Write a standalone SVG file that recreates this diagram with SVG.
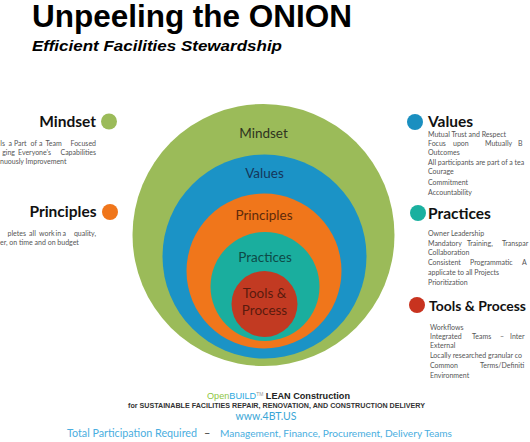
<svg xmlns="http://www.w3.org/2000/svg" width="530" height="442" viewBox="0 0 530 442">
<style>
.title{font-family:"Liberation Sans",Arial,sans-serif;font-weight:bold;fill:#000}
.ring{font-family:Lato,"Open Sans",sans-serif;font-size:13.5px;text-anchor:middle}
.head{font-family:Lato,"Open Sans",sans-serif;font-weight:bold;font-size:15.5px;fill:#111}
.body{font-family:Lato,"Open Sans",sans-serif;font-size:7px;fill:#555}
.foot{font-family:"Liberation Sans",Arial,sans-serif}
.lb{fill:#4AAEE0}
</style>
<rect width="530" height="442" fill="#fff"/>

<g id="title">
<text class="title" x="32" y="27" font-size="31" textLength="320" lengthAdjust="spacingAndGlyphs">Unpeeling the ONION</text>
<text class="title" x="32" y="50.5" font-size="14.5" font-style="italic" textLength="250" lengthAdjust="spacingAndGlyphs">Efficient Facilities Stewardship</text>
</g>

<g id="onion">
<g id="ring-mindset">
<circle cx="263.5" cy="235" r="131" fill="#9BBB59"/>
<text class="ring" x="263.5" y="138" fill="#2E3320">Mindset</text>
</g>
<g id="ring-values">
<circle cx="264.5" cy="256.5" r="102" fill="#1B93C6"/>
<text class="ring" x="264.5" y="177.5" fill="#15365A">Values</text>
</g>
<g id="ring-principles">
<circle cx="264" cy="271" r="77.5" fill="#F0761B"/>
<text class="ring" x="264" y="220" fill="#5E2A0A">Principles</text>
</g>
<g id="ring-practices">
<circle cx="265" cy="286.5" r="54.5" fill="#1AAE9E"/>
<text class="ring" x="265" y="262" fill="#0D4A47">Practices</text>
</g>
<g id="ring-tools">
<circle cx="264.5" cy="304" r="33" fill="#C23A22"/>
<text class="ring" x="264.5" y="298" fill="#5A1A0E">Tools &amp;</text>
<text class="ring" x="264.5" y="315" fill="#5A1A0E">Process</text>
</g>
</g>

<g id="connectors"/>

<g id="left-mindset">
<circle cx="109" cy="121.5" r="8" fill="#9BBB59"/>
<text class="head" x="96" y="127" text-anchor="end">Mindset</text>
<text class="body" y="146"><tspan x="5" text-anchor="end">ls</tspan><tspan x="8.5">a</tspan><tspan x="14">Part</tspan><tspan x="30.5">of</tspan><tspan x="39">a</tspan><tspan x="45.5">Team</tspan><tspan x="96" text-anchor="end">Focused</tspan></text>
<text class="body" y="155"><tspan x="15" text-anchor="end">ging</tspan><tspan x="18">Everyone’s</tspan><tspan x="96" text-anchor="end">Capabilities</tspan></text>
<text class="body" x="0" y="164">nuously Improvement</text>
</g>

<g id="left-principles">
<circle cx="110" cy="212" r="8" fill="#F0761B"/>
<text class="head" x="96.5" y="217" text-anchor="end">Principles</text>
<text class="body" y="235.5"><tspan x="26" text-anchor="end">pletes</tspan><tspan x="29">all</tspan><tspan x="39">work</tspan><tspan x="55.5">in</tspan><tspan x="62.5">a</tspan><tspan x="96" text-anchor="end">quality,</tspan></text>
<text class="body" x="0" y="245">er, on time and on budget</text>
</g>

<g id="right-values">
<circle cx="415" cy="122" r="8" fill="#1A8FC0"/>
<text class="head" x="428" y="126.5">Values</text>
<text class="body" x="428" y="136.5">Mutual Trust and Respect</text>
<text class="body" y="146"><tspan x="428">Focus</tspan><tspan x="453">upon</tspan><tspan x="485">Mutually</tspan><tspan x="518">B</tspan></text>
<text class="body" x="428" y="155">Outcomes</text>
<text class="body" x="428" y="165">All participants are part of a tea</text>
<text class="body" x="428" y="174">Courage</text>
<text class="body" x="428" y="184.5">Commitment</text>
<text class="body" x="428" y="194.5">Accountability</text>
</g>

<g id="right-practices">
<circle cx="418" cy="213" r="8" fill="#1AB09F"/>
<text class="head" x="428" y="218.5">Practices</text>
<text class="body" x="428" y="235.5">Owner Leadership</text>
<text class="body" y="245.5"><tspan x="428">Mandatory</tspan><tspan x="467">Training,</tspan><tspan x="502">Transpar</tspan></text>
<text class="body" x="428" y="254.5">Collaboration</text>
<text class="body" y="264.5"><tspan x="428">Consistent</tspan><tspan x="470">Programmatic</tspan><tspan x="522">A</tspan></text>
<text class="body" x="428" y="274.5">applicate  to all Projects</text>
<text class="body" x="428" y="284.5">Prioritization</text>
</g>

<g id="right-tools">
<circle cx="417" cy="305" r="8" fill="#C8331F"/>
<text class="head" x="429" y="310.5" style="font-size:14px" textLength="97" lengthAdjust="spacingAndGlyphs">Tools &amp; Process</text>
<text class="body" x="430" y="329.5">Workflows</text>
<text class="body" y="339"><tspan x="430">Integrated</tspan><tspan x="472">Teams</tspan><tspan x="500">–</tspan><tspan x="510">Inter</tspan></text>
<text class="body" x="430" y="348">External</text>
<text class="body" x="430" y="358">Locally researched granular co</text>
<text class="body" y="368"><tspan x="430">Common</tspan><tspan x="480">Terms/Definiti</tspan></text>
<text class="body" x="430" y="378">Environment</text>
</g>

<g id="footer">
<text class="foot" x="207" y="398.5" font-size="9.3" textLength="143" lengthAdjust="spacingAndGlyphs"><tspan fill="#8DC63F">Open</tspan><tspan fill="#29A8E0">BUILD</tspan><tspan fill="#999" font-size="5" dy="-3">TM</tspan><tspan fill="#222" font-weight="bold" dy="3"> LEAN Construction</tspan></text>
<text class="foot" x="128" y="408" font-size="6.3" font-weight="bold" fill="#333" textLength="297" lengthAdjust="spacingAndGlyphs">for SUSTAINABLE FACILITIES REPAIR, RENOVATION, AND CONSTRUCTION DELIVERY</text>
<text x="266" y="420" font-family="Lato,'Open Sans',sans-serif" font-size="10.5" fill="#3AA6D6" text-anchor="middle">www.4BT.US</text>
<text x="67" y="437" font-family="Lato,'Open Sans',sans-serif"><tspan class="lb" font-size="11" textLength="130" lengthAdjust="spacingAndGlyphs">Total Participation Required</tspan><tspan x="204" fill="#333" font-size="11">–</tspan><tspan class="lb" x="220" font-size="9" textLength="232" lengthAdjust="spacingAndGlyphs">Management, Finance, Procurement, Delivery Teams</tspan></text>
</g>
</svg>
